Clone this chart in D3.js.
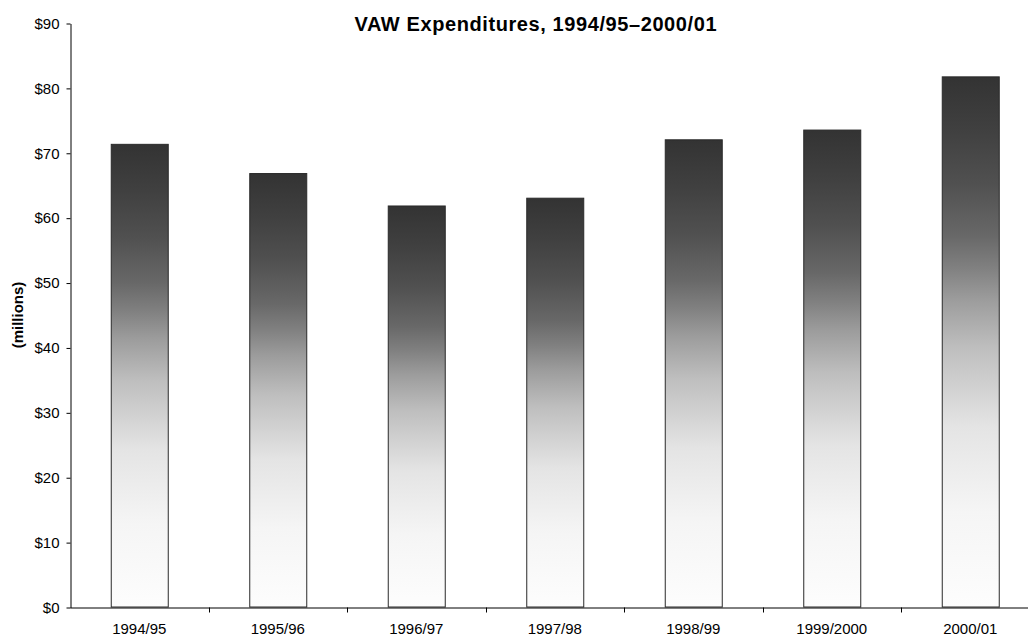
<!DOCTYPE html>
<html>
<head>
<meta charset="utf-8">
<script src="https://cdn.jsdelivr.net/npm/d3@7"></script>
<style>
  body { margin: 0; background: #fff; }
  svg { display: block; font-family: "Liberation Sans", Arial, sans-serif; }
</style>
</head>
<body>
<svg id="chart" width="1028" height="636"></svg>
<script>
const categories = ["1994/95", "1995/96", "1996/97", "1997/98", "1998/99", "1999/2000", "2000/01"];
const values = [71.3, 66.8, 61.8, 63.0, 72.0, 73.5, 81.7];
const yTicks = [0, 10, 20, 30, 40, 50, 60, 70, 80, 90];
const title = "VAW Expenditures, 1994/95\u20132000/01";
const yLabel = "(millions)";

(function () {
const svg = d3.select("#chart");
const mLeft = 70, mTop = 23, mBottom = 607, bandW = 138.5;
const mRight = mLeft + bandW * categories.length;
const font = "Liberation Sans, Arial, sans-serif";

const x = d3.scaleBand().domain(categories).range([mLeft, mRight]).paddingInner(0).paddingOuter(0);
const y = d3.scaleLinear().domain([0, 90]).range([mBottom, mTop]);

const defs = svg.append("defs");
const grad = defs.append("linearGradient").attr("id", "barGrad")
  .attr("x1", 0).attr("y1", 0).attr("x2", 0).attr("y2", 1);
[[0, 51], [0.10, 64], [0.20, 80], [0.30, 104], [0.36, 128], [0.42, 156], [0.51, 190], [0.66, 228], [0.82, 245], [1, 253]]
  .forEach(([o, g]) => grad.append("stop").attr("offset", o).attr("stop-color", d3.rgb(g, g, g)));

const barW = 57;
svg.append("g").selectAll("rect").data(categories).join("rect")
  .attr("x", d => x(d) + x.bandwidth() / 2 - barW / 2 + 0.5)
  .attr("y", (d, i) => y(values[i]))
  .attr("width", barW)
  .attr("height", (d, i) => mBottom - y(values[i]))
  .attr("fill", "url(#barGrad)")
  .attr("stroke", "#2a2a2a")
  .attr("stroke-width", 1);

// Y axis
const yAxis = d3.axisLeft(y).tickValues(yTicks).tickFormat(d => "$" + d).tickSize(4).tickSizeOuter(0);
const gy = svg.append("g").attr("transform", `translate(${mLeft + 0.5},0.5)`).call(yAxis);
gy.select(".domain").attr("stroke", "#000");
gy.selectAll(".tick line").attr("stroke", "#000");
gy.selectAll(".tick text").attr("font-size", 15).attr("fill", "#000").attr("x", -11)
  .attr("font-family", font);

// X axis
const xAxis = d3.axisBottom(x).tickSize(0).tickSizeOuter(0);
const gx = svg.append("g").attr("transform", `translate(0,${mBottom + 0.5})`).call(xAxis);
gx.select(".domain").attr("stroke", "#000");
gx.selectAll(".tick text").attr("font-size", 15).attr("fill", "#000")
  .attr("y", 26.5).attr("dy", 0).attr("font-family", font);
gx.append("g").selectAll("line").data(categories.slice(1)).join("line")
  .attr("x1", d => Math.round(x(d)) + 0.5).attr("x2", d => Math.round(x(d)) + 0.5)
  .attr("y1", 0).attr("y2", 5).attr("stroke", "#000");

// Title
svg.append("text").attr("x", 535.5).attr("y", 31).attr("text-anchor", "middle")
  .attr("font-size", 20).attr("font-weight", "bold").attr("fill", "#000")
  .attr("textLength", 362).attr("lengthAdjust", "spacing").text(title);

// Y label
svg.append("text").attr("transform", "translate(23,315) rotate(-90)")
  .attr("text-anchor", "middle").attr("font-size", 15).attr("font-weight", "bold")
  .attr("fill", "#000").text(yLabel);
})();
</script>
</body>
</html>
